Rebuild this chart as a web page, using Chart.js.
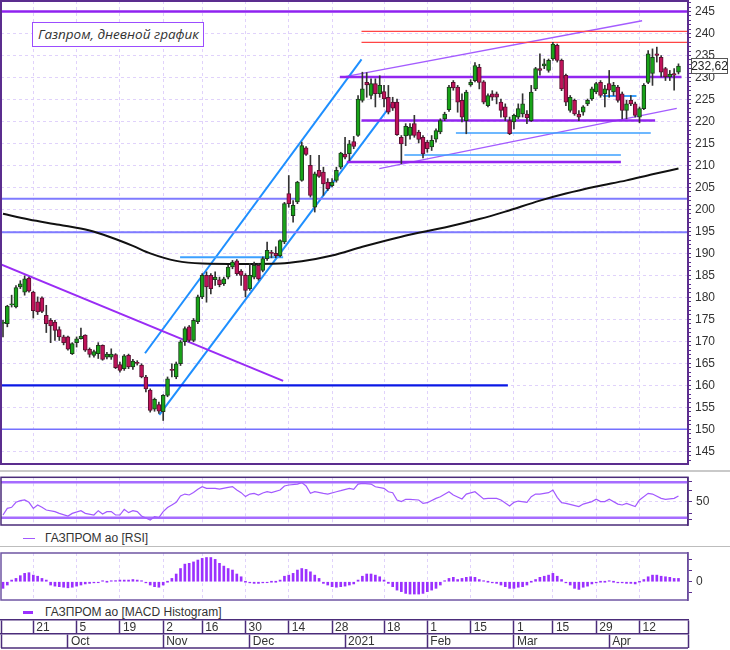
<!DOCTYPE html>
<html><head><meta charset="utf-8">
<script src="https://cdn.jsdelivr.net/npm/chart.js@4.4.1/dist/chart.umd.min.js"></script>
<style>
html,body{margin:0;padding:0;background:#fff;}
#wrap{position:relative;width:730px;height:650px;overflow:hidden;background:#fff;}
canvas{position:absolute;left:0;}
.txt{position:absolute;font-family:'Liberation Sans Narrow','Liberation Sans',Arial,sans-serif;font-size:12px;color:#333;white-space:nowrap;line-height:14px;}
</style></head><body>
<div id="wrap">
<canvas id="cMain" width="730" height="470" style="top:0"></canvas>
<div style="position:absolute;left:0;top:469.5px;width:730px;height:2px;background:#c9c9c9"></div>
<canvas id="cRsi" width="730" height="58" style="top:472px"></canvas>
<div style="position:absolute;left:23px;top:537.5px;width:12px;height:1px;background:#a259ff"></div>
<div class="txt" style="left:45px;top:531px">ГАЗПРОМ ао [RSI]</div>
<div style="position:absolute;left:0;top:545.5px;width:730px;height:1.5px;background:#bdbdbd"></div>
<canvas id="cMacd" width="730" height="56" style="top:549px"></canvas>
<div style="position:absolute;left:23px;top:611px;width:10px;height:3px;background:#9b30ff"></div>
<div class="txt" style="left:45px;top:605px">ГАЗПРОМ ао [MACD Histogram]</div>
<canvas id="cDate" width="730" height="34" style="top:616px"></canvas>
<div style="position:absolute;left:32px;top:22px;border:1px solid #9b4dff;background:#fff;font-family:'Open Sans','Noto Sans',sans-serif;font-style:italic;font-size:13.5px;line-height:23px;color:#333;padding-left:5px;box-sizing:border-box;width:172px;height:25px;">Газпром, дневной график</div>
</div>
<script>
// ---------- DATA ----------
const dates = ['2020-09-10','2020-09-11','2020-09-14','2020-09-15','2020-09-16','2020-09-17','2020-09-18','2020-09-21','2020-09-22','2020-09-23',
'2020-09-24','2020-09-25','2020-09-28','2020-09-29','2020-09-30','2020-10-01','2020-10-02','2020-10-05','2020-10-06','2020-10-07',
'2020-10-08','2020-10-09','2020-10-12','2020-10-13','2020-10-14','2020-10-15','2020-10-16','2020-10-19','2020-10-20','2020-10-21',
'2020-10-22','2020-10-23','2020-10-26','2020-10-27','2020-10-28','2020-10-29','2020-10-30','2020-11-02','2020-11-03','2020-11-05',
'2020-11-06','2020-11-09','2020-11-10','2020-11-11','2020-11-12','2020-11-13','2020-11-16','2020-11-17','2020-11-18','2020-11-19',
'2020-11-20','2020-11-23','2020-11-24','2020-11-25','2020-11-26','2020-11-27','2020-11-30','2020-12-01','2020-12-02','2020-12-03',
'2020-12-04','2020-12-07','2020-12-08','2020-12-09','2020-12-10','2020-12-11','2020-12-14','2020-12-15','2020-12-16','2020-12-17',
'2020-12-18','2020-12-21','2020-12-22','2020-12-23','2020-12-24','2020-12-25','2020-12-28','2020-12-29','2020-12-30','2021-01-04',
'2021-01-05','2021-01-06','2021-01-08','2021-01-11','2021-01-12','2021-01-13','2021-01-14','2021-01-15','2021-01-18','2021-01-19',
'2021-01-20','2021-01-21','2021-01-22','2021-01-25','2021-01-26','2021-01-27','2021-01-28','2021-01-29','2021-02-01','2021-02-02',
'2021-02-03','2021-02-04','2021-02-05','2021-02-08','2021-02-09','2021-02-10','2021-02-11','2021-02-12','2021-02-15','2021-02-16',
'2021-02-17','2021-02-18','2021-02-19','2021-02-20','2021-02-22','2021-02-24','2021-02-25','2021-02-26','2021-03-01','2021-03-02',
'2021-03-03','2021-03-04','2021-03-05','2021-03-09','2021-03-10','2021-03-11','2021-03-12','2021-03-15','2021-03-16','2021-03-17',
'2021-03-18','2021-03-19','2021-03-22','2021-03-23','2021-03-24','2021-03-25','2021-03-26','2021-03-29','2021-03-30','2021-03-31',
'2021-04-01','2021-04-02','2021-04-05','2021-04-06','2021-04-07','2021-04-08','2021-04-09','2021-04-12','2021-04-13','2021-04-14',
'2021-04-15','2021-04-16','2021-04-19','2021-04-20','2021-04-21','2021-04-22','2021-04-23'];

const opens = [174.1,174.0,178.3,177.8,182.4,181.2,184.4,181.2,179.0,179.9,
 175.9,174.8,174.4,172.7,171.0,171.0,167.2,169.7,170.6,171.4,
 168.2,166.8,167.2,169.1,166.4,166.4,167.0,164.7,163.8,166.8,
 164.2,165.2,164.6,161.9,158.9,154.6,155.6,154.0,157.7,163.6,
 161.9,164.9,169.9,173.3,170.2,174.5,180.1,185.0,185.0,184.0,
 184.0,183.1,184.6,186.9,188.3,186.0,185.0,182.0,184.6,187.3,
 186.1,188.8,190.2,190.0,189.5,192.6,203.6,198.6,201.7,206.6,
 214.0,210.0,200.5,208.9,208.5,206.2,205.4,206.6,209.6,212.6,
 212.7,215.4,216.8,224.8,228.9,225.9,228.6,226.3,226.8,225.5,
 224.4,224.4,216.4,216.7,216.8,219.5,217.6,216.4,215.3,214.2,
 216.0,217.6,220.6,222.7,228.9,227.8,224.8,220.2,228.3,229.3,
 232.3,229.0,223.6,226.3,226.3,224.4,223.3,220.2,219.9,221.0,
 221.7,221.7,220.2,227.4,232.0,232.6,231.6,234.2,237.3,233.9,
 230.5,222.5,224.8,221.7,222.1,224.0,225.1,226.7,228.9,226.3,
 228.6,226.7,227.8,226.3,222.5,224.8,224.0,221.0,222.9,228.9,
 230.9,235.4,234.6,232.0,230.1,230.9,231.2];
const highs = [174.8,178.2,180.5,182.7,183.8,184.9,184.6,181.4,180.1,180.1,
 178.2,175.2,174.8,173.3,171.4,171.2,169.7,171.0,173.0,171.5,
 168.5,168.0,169.7,169.2,167.5,168.3,167.2,165.3,167.0,167.1,
 165.9,165.6,164.9,162.3,159.2,157.1,156.2,157.9,161.9,164.9,
 165.3,170.2,173.3,173.6,175.2,180.5,185.4,185.8,185.4,185.8,
 184.6,184.6,187.3,188.4,188.6,186.3,185.4,187.7,188.0,187.7,
 189.2,192.6,190.7,191.5,193.1,201.6,207.7,202.0,206.4,215.3,
 214.3,212.3,208.5,212.3,209.6,207.0,207.0,209.6,213.0,216.4,
 215.7,216.6,225.9,231.2,231.1,229.7,229.7,230.4,228.2,228.2,
 225.5,225.1,216.8,219.5,219.5,221.4,218.0,216.8,215.7,216.8,
 218.3,220.6,222.1,228.2,229.3,228.2,226.3,227.1,229.5,233.4,
 233.0,229.3,226.3,227.0,226.7,225.1,224.0,221.0,221.7,224.0,
 226.3,222.5,228.2,232.3,235.4,234.2,234.2,238.0,237.6,234.2,
 230.8,225.9,225.1,222.5,223.6,225.1,227.8,228.9,229.3,228.2,
 231.6,228.9,228.2,226.7,224.8,225.9,224.4,223.3,228.6,236.1,
 236.5,236.9,235.0,232.3,231.6,232.0,233.1];
const lows = [171.0,173.3,177.8,177.6,182.0,180.5,181.2,175.3,176.1,176.5,
 172.0,169.7,170.2,170.2,169.2,168.0,167.0,168.7,170.5,167.7,
 166.4,166.4,166.1,165.7,166.0,165.9,163.8,163.0,163.4,163.8,
 163.6,164.6,161.7,158.5,153.9,154.1,153.6,152.0,157.4,161.9,
 161.5,164.5,169.1,169.9,169.9,174.0,179.7,178.9,180.8,182.7,
 182.4,182.7,184.2,186.5,185.0,182.7,180.1,181.6,184.2,183.9,
 185.8,188.4,189.0,189.0,189.2,192.2,200.5,197.1,201.3,206.4,
 212.3,202.8,199.4,207.3,203.2,204.3,205.1,206.2,209.2,211.5,
 211.1,213.8,216.6,224.4,225.5,225.1,223.3,225.5,223.3,221.7,
 222.5,216.8,210.4,214.5,216.0,216.4,215.1,211.7,213.0,213.4,
 215.3,217.2,220.2,222.3,227.1,222.1,219.9,217.2,228.0,229.0,
 227.4,224.0,223.3,224.8,224.0,221.0,220.2,217.0,218.3,220.6,
 221.0,219.5,220.0,227.0,230.5,232.0,231.2,233.9,233.5,227.0,
 223.6,222.1,221.4,220.2,221.4,223.6,224.8,226.3,225.5,223.3,
 225.5,225.9,224.4,220.6,220.6,223.6,221.0,219.7,222.7,228.6,
 228.2,233.5,230.1,229.3,229.3,227.1,230.8];
const closes = [174.3,178.0,178.5,182.2,183.1,184.2,181.4,177.0,176.7,176.8,
 174.0,173.5,172.5,171.0,169.7,168.2,169.5,170.6,171.2,168.0,
 167.0,167.7,169.1,165.9,167.1,167.1,164.0,163.4,166.7,164.2,
 165.5,165.0,161.9,159.2,154.3,156.8,154.1,157.7,161.5,163.4,
 164.9,169.9,172.9,170.2,174.8,180.1,185.0,182.4,182.0,184.6,
 182.9,184.2,186.9,188.0,185.4,185.0,181.6,185.0,187.3,184.2,
 188.8,190.7,190.0,189.5,192.9,201.3,201.3,200.9,206.2,214.5,
 212.5,203.2,208.1,207.5,205.8,204.7,206.2,208.9,212.8,211.9,
 214.9,214.3,225.1,227.4,228.3,228.6,226.3,228.2,225.1,222.1,
 223.0,217.0,214.9,218.9,218.7,216.8,215.9,212.6,213.8,215.7,
 217.9,220.2,221.7,227.8,227.6,224.4,221.0,226.7,228.9,232.7,
 228.9,224.4,225.9,225.5,225.5,222.5,221.0,217.2,221.4,222.9,
 224.0,220.8,226.7,232.0,231.6,233.1,233.9,237.6,233.9,227.4,
 224.4,225.5,221.7,221.0,223.3,224.8,227.4,228.6,225.9,227.4,
 227.1,228.2,224.8,222.5,224.0,224.0,221.4,222.9,228.2,235.4,
 234.6,235.0,231.2,230.1,230.8,230.5,232.62];

// moving average read at sample candles (index, value)
const maIdx = [0,6,13,20,25,30,34,40,46,55,64,69,76,83,92,103,110,116,124,130,137,144,150,156];
const maVal = [199.0,197.7,196.5,195.2,193.6,191.7,190.0,188.3,187.7,187.6,187.7,188.2,189.5,191.5,193.8,196.1,197.8,199.5,202.0,203.6,205.2,206.6,208.0,209.3];

// RSI read at sample candles
const rsiIdx = [0,1,2,3,4,5,6,7,8,9,10,12,13,15,16,18,19,21,22,23,24,25,26,27,28,29,30,31,32,34,35,36,37,38,39,40,41,42,43,44,45,46,47,49,50,52,53,54,55,56,57,58,59,60,61,62,64,65,66,68,69,70,71,72,74,75,77,78,80,81,82,83,85,86,88,89,90,91,92,93,94,96,97,98,100,101,103,104,106,107,109,111,112,114,115,117,118,119,121,122,123,124,126,127,128,129,130,133,134,136,137,138,139,140,142,143,144,146,147,149,150,152,153,155,156];
const rsiVal = [38.6,44.3,45.2,49.5,50.9,51.5,49.5,44.3,47.2,45.2,42.9,41.5,40.0,37.7,40.0,42.3,40.0,38.6,42.3,39.4,41.5,41.5,38.6,38.6,43.5,40.6,42.3,41.5,37.7,34.3,37.1,36.3,41.5,45.0,47.2,49.5,55.0,56.6,55.8,58.0,60.7,62.9,61.5,61.5,60.9,62.4,63.0,60.1,57.8,54.4,56.6,57.2,55.8,57.5,58.6,57.8,60.1,63.5,64.4,65.2,66.4,63.5,57.2,58.6,57.2,56.6,58.6,59.5,61.5,60.7,65.2,65.8,65.2,62.9,61.5,58.6,57.8,51.5,50.1,52.1,52.1,51.5,48.6,49.2,52.9,54.3,58.6,55.8,52.4,56.6,58.6,52.4,52.9,52.9,51.5,46.3,49.5,50.6,49.5,54.4,56.6,56.6,57.8,60.1,53.8,49.2,48.6,45.8,48.0,50.1,52.1,50.1,50.1,52.1,48.0,47.2,48.6,45.8,51.5,57.2,56.6,52.9,52.1,52.9,54.9];
const rsiLevels = [66.7, 36.3];

const macdHist = [-0.6,-0.3,0.15,0.3,0.55,0.76,0.82,0.6,0.5,0.3,
 0.15,-0.3,-0.4,-0.45,-0.5,-0.55,-0.5,-0.4,-0.3,-0.2,
 -0.15,-0.1,-0.06,0.02,0,0.06,0.1,0.15,0.15,0.15,
 0.2,0.15,0.06,-0.1,-0.3,-0.45,-0.5,-0.3,0,0.3,
 0.7,1.2,1.6,1.67,1.8,1.97,2.12,2.2,2.2,2.03,
 1.67,1.42,1.2,1.06,0.7,0.45,0,-0.1,-0.15,-0.15,
 -0.1,-0.06,0,0,0.15,0.5,0.6,0.76,1.06,1.2,
 1.12,0.9,0.6,0.3,-0.15,-0.3,-0.45,-0.5,-0.45,-0.4,
 -0.3,-0.2,0.15,0.5,0.7,0.7,0.6,0.45,0.15,-0.15,
 -0.45,-0.76,-0.9,-1.06,-1.12,-1.12,-1.12,-1.06,-0.9,-0.76,
 -0.6,-0.3,0.03,0.3,0.4,0.2,0.3,0.4,0.45,0.4,
 0.2,0.06,0,-0.1,-0.15,-0.3,-0.45,-0.6,-0.6,-0.5,
 -0.45,-0.3,0,0.2,0.4,0.5,0.6,0.76,0.5,0.2,
 -0.1,-0.3,-0.6,-0.7,-0.5,-0.4,-0.2,-0.1,0,0,
 0.06,0,-0.1,-0.1,-0.15,-0.15,-0.2,0,0.2,0.45,
 0.6,0.6,0.5,0.45,0.4,0.3,0.3];

const priceTickLabels = [145,150,155,160,165,170,175,180,185,190,195,200,205,210,215,220,225,230,235,240,245];
const dayTickDates = ['2020-09-21','2020-10-05','2020-10-19','2020-11-02','2020-11-16','2020-11-30','2020-12-14','2020-12-28','2021-01-18','2021-02-01','2021-02-15','2021-03-01','2021-03-15','2021-03-29','2021-04-12'];
const dayTickLabels = ['21','5','19','2','16','30','14','28','18','1','15','1','15','29','12'];
const monthTickDates = ['2020-10-01','2020-11-02','2020-12-01','2021-01-04','2021-02-01','2021-03-01','2021-04-01'];
const monthTickLabels = ['Oct','Nov','Dec','2021','Feb','Mar','Apr'];

// drawn levels / trend lines: [candle index, price]
const X_MIN = -0.46, X_MAX = 158.2;
const level245 = [[X_MIN,245],[X_MAX,245]];
const red240 = [[82.8,240.5],[X_MAX,240.5]];
const red238 = [[82.8,238.0],[X_MAX,238.0]];
const res230 = [[77.8,230.1],[156.7,230.1]];
const sup220 = [[82.8,220.2],[150.6,220.2]];
const blue217 = [[104.6,217.4],[149.6,217.4]];
const blue212 = [[92.7,212.4],[142.7,212.4]];
const sup211 = [[79.4,210.8],[142.7,210.8]];
const blue226 = [[138.6,225.8],[146.3,225.8]];
const level202 = [[X_MIN,202.4],[X_MAX,202.4]];
const level195 = [[X_MIN,194.8],[X_MAX,194.8]];
const level160 = [[X_MIN,160.0],[116.6,160.0]];
const level150 = [[X_MIN,150.0],[X_MAX,150.0]];
const blue189 = [[40.9,189.1],[64.7,189.1]];
const downTrend = [[X_MIN,187.5],[64.7,161.0]];
const chanUpper = [[32.8,167.3],[82.8,234.1]];
const chanLower = [[36.1,153.3],[90.1,224.4]];
const wedgeUpper = [[78.1,230.0],[147.6,242.9]];
const wedgeLower = [[86.9,209.3],[155.6,223.0]];

// ---------- STYLE ----------
const FONT = "'Liberation Sans Narrow','Liberation Sans',Arial,sans-serif";
Chart.defaults.font.family = FONT;
Chart.defaults.font.size = 12;
Chart.defaults.color = '#333';
const GRID = '#e0d2fb';
const FRAME = '#5b2d8e';
const GREEN = '#18a418', RED = '#c0125a';

const idx = d => dates.indexOf(d);
const dayTickIdx = dayTickDates.map(idx);
const monthTickIdx = monthTickDates.map(idx);

const framePlugin = {
  id: 'frame',
  afterDraw(chart, args, opts) {
    if (!opts || !opts.color) return;
    const {ctx, chartArea: a} = chart;
    ctx.save();
    ctx.strokeStyle = opts.color; ctx.lineWidth = opts.width;
    ctx.strokeRect(a.left, a.top, a.right - a.left, a.bottom - a.top);
    ctx.restore();
  }
};
const priceTagPlugin = {
  id: 'priceTag',
  afterDraw(chart) {
    const last = closes[closes.length - 1];
    const y = Math.round(chart.scales.y.getPixelForValue(last));
    const x0 = chart.chartArea.right + 3;
    const ctx = chart.ctx;
    ctx.save();
    ctx.fillStyle = '#fff'; ctx.fillRect(x0, y - 8, 37, 16);
    ctx.strokeStyle = '#555'; ctx.lineWidth = 1; ctx.strokeRect(x0 + 0.5, y - 7.5, 36, 15);
    ctx.fillStyle = '#222'; ctx.font = '12px ' + FONT; ctx.textAlign = 'center'; ctx.textBaseline = 'middle';
    ctx.fillText(last.toFixed(2).replace('.', ','), x0 + 18.5, y + 0.5);
    ctx.restore();
  }
};

function xGridScale() {
  return {
    type: 'linear', min: X_MIN, max: X_MAX, offset: false,
    afterBuildTicks: s => { s.ticks = dayTickIdx.map(v => ({value: v})); },
    afterFit: s => { s.height = 0; s.paddingLeft = 0; s.paddingRight = 0; },
    ticks: {display: false},
    grid: {offset: false, color: GRID, drawTicks: false, lineWidth: 1},
    border: {display: false, dash: [3, 3]}
  };
}
function yRight(min, max, tickVals, labelVals, gridVals, tickLen) {
  return {
    type: 'linear', position: 'right', min, max, beginAtZero: false,
    afterBuildTicks: s => { s.ticks = tickVals.map(v => ({value: v})); },
    afterFit: s => { s.width = 42; s.paddingTop = 0; s.paddingBottom = 0; },
    ticks: {autoSkip: false, padding: 4, color: '#333', font: {family: FONT, size: 12},
      callback: v => labelVals.includes(v) ? String(v) : ''},
    grid: {color: c => (c.tick && gridVals.includes(c.tick.value)) ? GRID : 'rgba(0,0,0,0)',
      tickColor: FRAME, tickLength: tickLen, tickWidth: 1, tickBorderDash: []},
    border: {display: true, color: FRAME, width: 1.5, dash: [3, 3]}
  };
}
function seg(points, color, width, order) {
  return {type: 'line', data: points.map(p => ({x: p[0], y: p[1]})), borderColor: color,
    borderWidth: width, pointRadius: 0, fill: false, tension: 0, order: order || 5};
}
const baseOpts = {responsive: false, animation: false, events: []};

// ---------- MAIN PRICE CHART ----------
const Y_MIN = 142.11, Y_MAX = 247.39;
const priceTicks = [];
for (let v = Math.ceil(Y_MIN); v <= Math.floor(Y_MAX); v++) priceTicks.push(v);

new Chart(document.getElementById('cMain'), {
  type: 'bar',
  data: {datasets: [
    {type: 'bar', data: lows.map((l, i) => ({x: i, y: [l, highs[i]]})), backgroundColor: '#333',
      barThickness: 1, grouped: false, minBarLength: 1, order: 1},
    {type: 'bar', data: opens.map((o, i) => ({x: i, y: [o, closes[i]]})),
      backgroundColor: opens.map((o, i) => closes[i] >= o ? GREEN : RED),
      borderColor: opens.map((o, i) => closes[i] >= o ? '#1d3d1d' : '#5a1030'),
      borderWidth: 1, borderSkipped: false, barThickness: 4, grouped: false, minBarLength: 1, order: 0},
    {type: 'line', data: maIdx.map((x, k) => ({x, y: maVal[k]})), borderColor: '#111', borderWidth: 2,
      pointRadius: 0, fill: false, cubicInterpolationMode: 'monotone', order: 3},
    seg(level245, '#8f22f0', 2.5),
    seg(red240, '#ff4545', 1.2),
    seg(red238, '#ff4545', 1.2),
    seg(res230, '#9226f0', 2.5),
    seg(sup220, '#9226f0', 2.5),
    seg(sup211, '#9226f0', 2.5),
    seg(blue217, '#3da0ff', 1.5),
    seg(blue212, '#3da0ff', 1.5),
    seg(blue226, '#3da0ff', 2),
    seg(level202, '#7f7bff', 2),
    seg(level195, '#7f7bff', 2),
    seg(level150, '#7570ff', 1.5),
    seg(level160, '#0a18e6', 2.2),
    seg(blue189, '#3da0ff', 2),
    seg(downTrend, '#9a2cf5', 2),
    seg(chanUpper, '#1e8fff', 2),
    seg(chanLower, '#1e8fff', 2),
    seg(wedgeUpper, '#a45cff', 1.3),
    seg(wedgeLower, '#a45cff', 1.3)
  ]},
  options: Object.assign({}, baseOpts, {
    layout: {padding: {left: 1, right: 0, top: 1, bottom: 6}},
    plugins: {legend: {display: false}, tooltip: {enabled: false}, frame: {color: FRAME, width: 2}},
    scales: {
      x: xGridScale(),
      y: yRight(Y_MIN, Y_MAX, priceTicks, priceTickLabels, priceTickLabels, 3)
    }
  }),
  plugins: [framePlugin, priceTagPlugin]
});

// ---------- RSI ----------
new Chart(document.getElementById('cRsi'), {
  type: 'line',
  data: {datasets: [
    {data: rsiIdx.map((x, k) => ({x, y: rsiVal[k]})), borderColor: '#a259ff', borderWidth: 1.2, pointRadius: 0, fill: false, order: 0},
    seg([[X_MIN, rsiLevels[0]], [X_MAX, rsiLevels[0]]], '#a66cff', 2.5, 1),
    seg([[X_MIN, rsiLevels[1]], [X_MAX, rsiLevels[1]]], '#a66cff', 2.5, 1)
  ]},
  options: Object.assign({}, baseOpts, {
    layout: {padding: {left: 1, right: 0, top: 5.3, bottom: 5}},
    plugins: {legend: {display: false}, tooltip: {enabled: false}, frame: {color: '#4b2c7a', width: 1.5}},
    scales: {x: xGridScale(), y: yRight(30, 71, [35, 40, 50, 60, 67], [50], [50], 4)}
  }),
  plugins: [framePlugin]
});

// ---------- MACD HISTOGRAM ----------
new Chart(document.getElementById('cMacd'), {
  type: 'bar',
  data: {datasets: [
    {data: macdHist.map((v, i) => ({x: i, y: v})), backgroundColor: '#9b30ff', barThickness: 2, minBarLength: 1}
  ]},
  options: Object.assign({}, baseOpts, {
    layout: {padding: {left: 1, right: 0, top: 4, bottom: 5}},
    plugins: {legend: {display: false}, tooltip: {enabled: false}, frame: {color: '#6f55a3', width: 1.5}},
    scales: {x: xGridScale(), y: yRight(-1.66, 2.61, [-1, 0, 1, 2], [0], [], 4)}
  }),
  plugins: [framePlugin]
});

// ---------- DATE AXIS ----------
function dateAxis(tickIdx, labels, weight) {
  return {
    type: 'linear', position: 'bottom', axis: 'x', weight, min: X_MIN, max: X_MAX, offset: false,
    afterBuildTicks: s => { s.ticks = [X_MIN].concat(tickIdx, [X_MAX]).map(v => ({value: v})); },
    afterFit: s => { s.height = 14; s.paddingLeft = 0; s.paddingRight = 0; },
    ticks: {autoSkip: false, maxRotation: 0, minRotation: 0, align: 'start', labelOffset: 3, padding: -14,
      color: '#333', font: {family: FONT, size: 12},
      callback: v => { const k = tickIdx.indexOf(v); return k >= 0 ? labels[k] : ''; }},
    grid: {offset: false, drawOnChartArea: false, drawTicks: true, tickLength: 14, tickColor: '#4b2c7a', tickWidth: 1.5, tickBorderDash: []},
    border: {display: true, color: '#4b2c7a', width: 1.5}
  };
}
const bottomLine = {
  id: 'bottomLine',
  afterDraw(chart) {
    const s = chart.scales.xm, ctx = chart.ctx;
    ctx.save(); ctx.strokeStyle = '#4b2c7a'; ctx.lineWidth = 1.5;
    ctx.beginPath(); ctx.moveTo(chart.chartArea.left, s.top + 14); ctx.lineTo(chart.chartArea.right, s.top + 14); ctx.stroke();
    ctx.restore();
  }
};
new Chart(document.getElementById('cDate'), {
  type: 'line',
  data: {datasets: []},
  options: Object.assign({}, baseOpts, {
    layout: {padding: {left: 1, right: 42, top: 0, bottom: 2}},
    plugins: {legend: {display: false}, tooltip: {enabled: false}},
    scales: {
      xd: dateAxis(dayTickIdx, dayTickLabels, 0),
      xm: dateAxis(monthTickIdx, monthTickLabels, 1),
      y: {display: false}
    }
  }),
  plugins: [bottomLine]
});
</script>
</body></html>
